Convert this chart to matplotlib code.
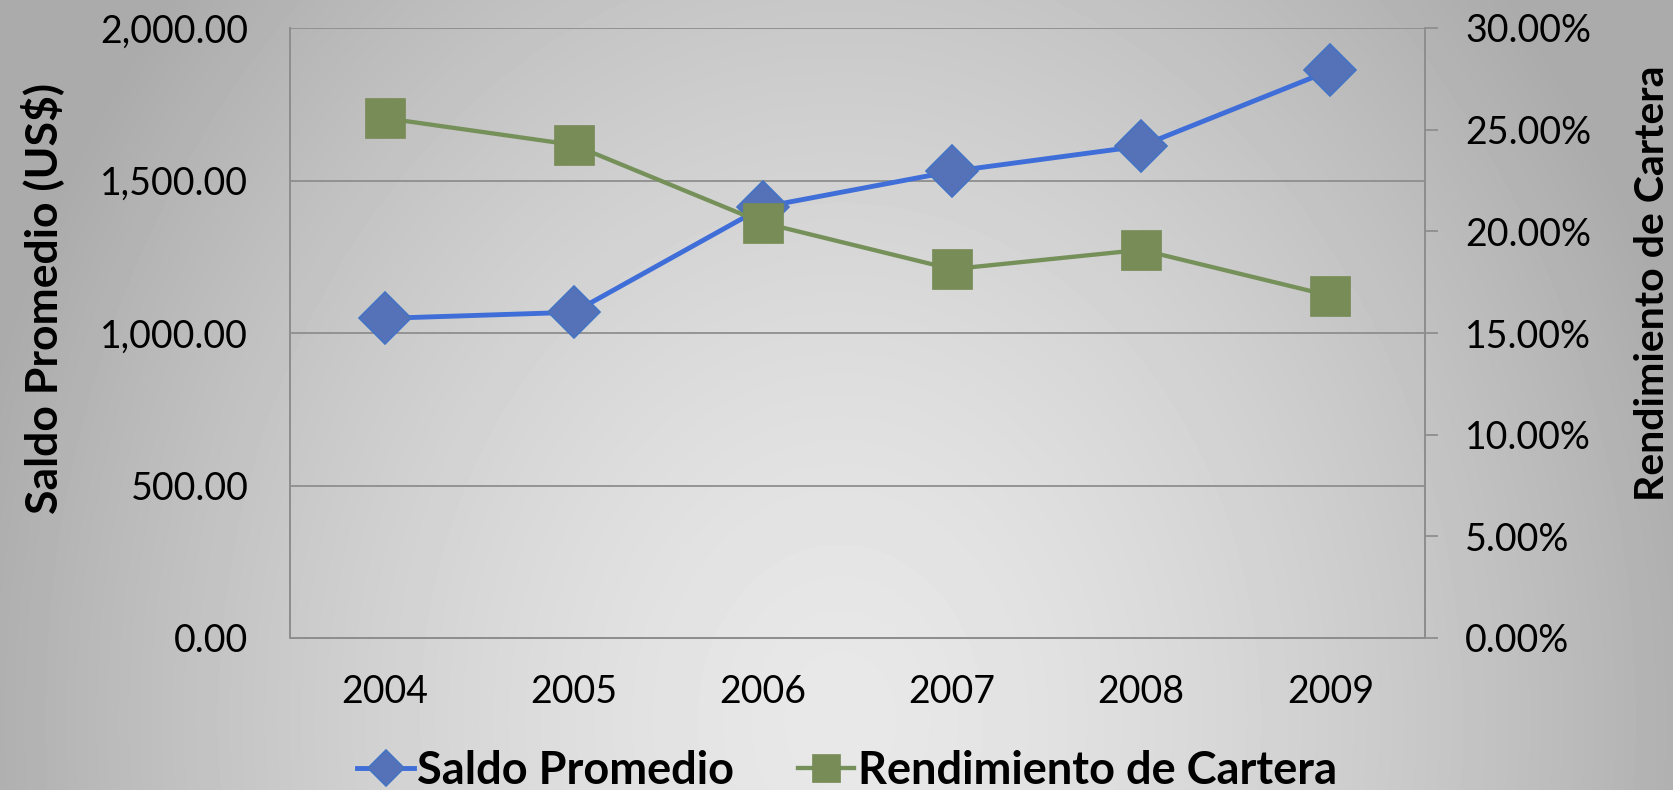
import numpy as np
import matplotlib
matplotlib.use("Agg")
import matplotlib.pyplot as plt
from matplotlib.ticker import FuncFormatter, MultipleLocator

plt.rcParams['font.family'] = ['Lato', 'DejaVu Sans']

# datos
years = ['2004', '2005', '2006', '2007', '2008', '2009']
saldo = [1048, 1068, 1413, 1530, 1613, 1861]          # US$
rendimiento = [25.57, 24.25, 20.42, 18.14, 19.09, 16.83]  # %

blue_line = '#3F6ED8'
blue_face = '#5572B8'
green_line = '#76905A'
green_face = '#778C56'
grid_col = '#8E8E8E'

W, H = 1673, 790
fig = plt.figure(figsize=(W / 100, H / 100), dpi=100)

# fondo con degradado radial
bg = fig.add_axes([0, 0, 1, 1], zorder=-10)
xx, yy = np.meshgrid(np.arange(W), np.arange(H))
d = np.sqrt(((xx - 840) / 650.0) ** 2 + ((yy - 720) / 800.0) ** 2)
val = np.clip(0.91 - 0.15 * d ** 1.5, 0.67, 1)
bg.imshow(val, cmap='gray', vmin=0, vmax=1, aspect='auto', interpolation='bilinear')
bg.axis('off')

ax = fig.add_axes([290 / W, 1 - 638 / H, (1425 - 290) / W, (638 - 28) / H])
ax.set_facecolor('none')
ax2 = ax.twinx()

x = np.arange(len(years))
ax.plot(x, saldo, color=blue_line, lw=3.5, marker='D', markersize=26,
        markerfacecolor=blue_face, markeredgecolor='#4472C4', markeredgewidth=1.2,
        label='Saldo Promedio', zorder=3)
ax2.plot(x, rendimiento, color=green_line, lw=3.1, marker='s', markersize=29,
         markerfacecolor=green_face, markeredgecolor=green_face, markeredgewidth=0.5,
         label='Rendimiento de Cartera', zorder=3)

ax.set_xlim(-0.5, len(years) - 0.5)
ax.set_ylim(0, 2000)
ax2.set_ylim(0, 30)
ax.set_xticks(x)
ax.set_xticklabels(years)
ax.yaxis.set_major_locator(MultipleLocator(500))
ax2.yaxis.set_major_locator(MultipleLocator(5))
ax.yaxis.set_major_formatter(FuncFormatter(lambda v, p: f'{v:,.2f}'))
ax2.yaxis.set_major_formatter(FuncFormatter(lambda v, p: f'{v:.2f}%'))

ax.grid(axis='y', color=grid_col, lw=1.3)
ax.set_axisbelow(True)

for a in (ax, ax2):
    a.spines['top'].set_visible(False)
    for s in ('left', 'right', 'bottom'):
        a.spines[s].set_color(grid_col)
        a.spines[s].set_linewidth(1.3)

ax.tick_params(axis='y', length=0, pad=30, labelsize=27, colors='black')
ax.tick_params(axis='x', length=0, pad=26, labelsize=27, colors='black')
ax2.tick_params(axis='y', length=9, width=1.3, color=grid_col, pad=20, labelsize=27,
                labelcolor='black')
for lbl in ax2.get_yticklabels():
    lbl.set_horizontalalignment('left')

fig.text(42 / W, 1 - 299 / H, 'Saldo Promedio (US$)', rotation=90, ha='center', va='center',
         fontsize=32, fontweight='bold')
fig.text(1652 / W, 1 - 283 / H, 'Rendimiento de Cartera', rotation=90, ha='center',
         va='center', fontsize=29.5, fontweight='bold')

h1, l1 = ax.get_legend_handles_labels()
h2, l2 = ax2.get_legend_handles_labels()
fig.legend(h1 + h2, l1 + l2, loc='center', bbox_to_anchor=(847 / W, 19 / H), ncol=2,
           frameon=False, prop={'size': 32.5, 'weight': 'bold'}, markerscale=0.7,
           handlelength=1.25, handletextpad=0.08, columnspacing=1.4, borderpad=0)

fig.savefig('out.png', dpi=100)
